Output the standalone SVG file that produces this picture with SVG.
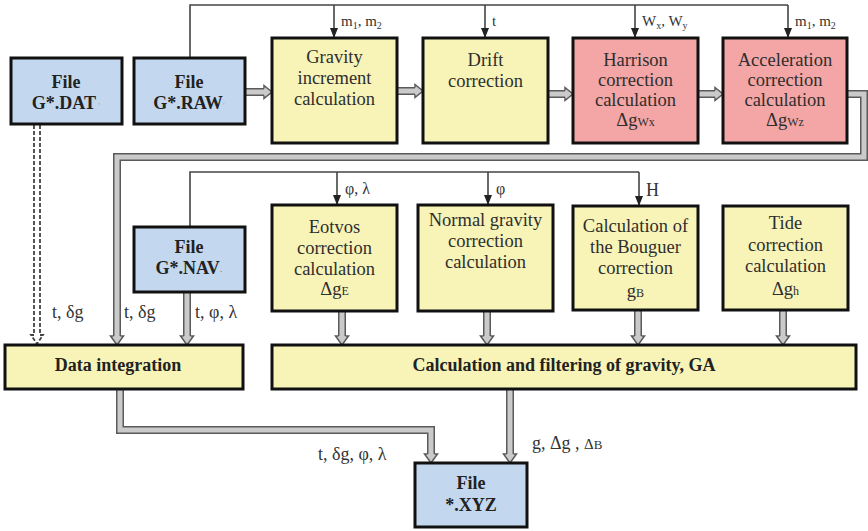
<svg xmlns="http://www.w3.org/2000/svg" width="868" height="531" viewBox="0 0 868 531" font-family="Liberation Serif, Times New Roman, serif">
<defs>
<style>
.box{stroke:#111;stroke-width:3}
.blue{fill:#c3d8ee}
.yel{fill:#f8f4b8}
.pink{fill:#f4a6a6}
.t{font-size:18.5px;fill:#2e2e2e;text-anchor:middle}
.b{font-size:18px;font-weight:bold;fill:#222;text-anchor:middle}
.lb{fill:#333}
.thin{fill:none;stroke:#444;stroke-width:1.6}
.so{fill:none;stroke:#5a5a5a;stroke-width:8;stroke-linejoin:miter}
.si{fill:none;stroke:#cacaca;stroke-width:5;stroke-linejoin:miter}
.hd{fill:#cacaca;stroke:#5a5a5a;stroke-width:1.5;stroke-linejoin:miter}
.ds{fill:none;stroke:#444;stroke-width:1.8;stroke-dasharray:4 2}
</style>
<marker id="ah" markerWidth="10" markerHeight="10" refX="10" refY="5" orient="auto" markerUnits="userSpaceOnUse"><path d="M0,1 L10,5 L0,9 Z" fill="#222"/></marker>
</defs>
<rect width="868" height="531" fill="#fff"/>

<g id="connectors">
<path class="thin" d="M190,58 V5 H788"/>
<path class="thin" d="M334,5 V38" marker-end="url(#ah)"/>
<path class="thin" d="M485,5 V38" marker-end="url(#ah)"/>
<path class="thin" d="M635,5 V38" marker-end="url(#ah)"/>
<path class="thin" d="M788,5 V38" marker-end="url(#ah)"/>
<path class="thin" d="M190,227 V172 H639"/>
<path class="thin" d="M337,172 V205" marker-end="url(#ah)"/>
<path class="thin" d="M488,172 V205" marker-end="url(#ah)"/>
<path class="thin" d="M639,172 V206" marker-end="url(#ah)"/>

<path class="so" d="M246,92 H264"/><path class="si" d="M246,92 H264"/>
<path class="hd" d="M264,88.5 V85.5 L272,92 L264,98.5 V95.5"/>
<path class="so" d="M397,91 H415"/><path class="si" d="M397,91 H415"/>
<path class="hd" d="M415,87.5 V84.5 L423,91 L415,97.5 V94.5"/>
<path class="so" d="M548,94 H565"/><path class="si" d="M548,94 H565"/>
<path class="hd" d="M565,90.5 V87.5 L573,94 L565,100.5 V97.5"/>
<path class="so" d="M698,94 H715"/><path class="si" d="M698,94 H715"/>
<path class="hd" d="M715,90.5 V87.5 L723,94 L715,100.5 V97.5"/>

<path class="so" d="M848,94 H864 V157 H117 V336"/>
<path class="si" d="M848,94 H864 V157 H117 V336"/>
<path class="hd" d="M113.5,336 H110.5 L117,345 L123.5,336 H120.5"/>

<path class="ds" d="M34,125 V335"/>
<path class="ds" d="M40,125 V335"/>
<path class="ds" d="M34,335 H31 L37,344 L43,335 H40"/>

<path class="so" d="M187,292 V336"/><path class="si" d="M187,292 V336"/>
<path class="hd" d="M183.5,336 H180.5 L187,345 L193.5,336 H190.5"/>

<path class="so" d="M342,311 V336"/><path class="si" d="M342,311 V336"/>
<path class="hd" d="M338.5,336 H335.5 L342,345 L348.5,336 H345.5"/>
<path class="so" d="M487,311 V336"/><path class="si" d="M487,311 V336"/>
<path class="hd" d="M483.5,336 H480.5 L487,345 L493.5,336 H490.5"/>
<path class="so" d="M638,310 V336"/><path class="si" d="M638,310 V336"/>
<path class="hd" d="M634.5,336 H631.5 L638,345 L644.5,336 H641.5"/>
<path class="so" d="M783,310 V336"/><path class="si" d="M783,310 V336"/>
<path class="hd" d="M779.5,336 H776.5 L783,345 L789.5,336 H786.5"/>

<path class="so" d="M120,389 V430 H431 V454"/>
<path class="si" d="M120,389 V430 H431 V454"/>
<path class="hd" d="M427.5,454 H424.5 L431,463 L437.5,454 H434.5"/>
<path class="so" d="M510,389 V454"/><path class="si" d="M510,389 V454"/>
<path class="hd" d="M506.5,454 H503.5 L510,463 L516.5,454 H513.5"/>

<text class="lb" x="341" y="26" font-size="15">m<tspan font-size="10" dy="3">1</tspan><tspan dy="-3">, m</tspan><tspan font-size="10" dy="3">2</tspan></text>
<text class="lb" x="492" y="26" font-size="15">t</text>
<text class="lb" x="642" y="26" font-size="15">W<tspan font-size="10" dy="3">x</tspan><tspan dy="-3">, W</tspan><tspan font-size="10" dy="3">y</tspan></text>
<text class="lb" x="795" y="26" font-size="15">m<tspan font-size="10" dy="3">1</tspan><tspan dy="-3">, m</tspan><tspan font-size="10" dy="3">2</tspan></text>
<text class="lb" x="345" y="194" font-size="16">φ, λ</text>
<text class="lb" x="496" y="194" font-size="16">φ</text>
<text class="lb" x="646" y="196" font-size="18">H</text>
<text class="lb" x="52" y="318" font-size="18">t, δg</text>
<text class="lb" x="124" y="318" font-size="18">t, δg</text>
<text class="lb" x="195" y="318" font-size="18">t, φ, λ</text>
<text class="lb" x="318" y="460" font-size="18">t, δg, φ, λ</text>
<text class="lb" x="532" y="449" font-size="18">g, Δg , <tspan font-size="15">Δ</tspan><tspan font-size="13">B</tspan></text>
</g>

<g id="dat">
<rect class="box blue" x="11" y="58" width="111" height="66"/>
<text class="b" x="66" y="88">File</text>
<text class="b" x="66" y="109">G*.DAT<tspan font-size="8" fill="#aaa"> '</tspan></text>
</g>
<g id="raw">
<rect class="box blue" x="134" y="58" width="111" height="66"/>
<text class="b" x="189" y="88">File</text>
<text class="b" x="189" y="109">G*.RAW<tspan font-size="8" fill="#aaa">'</tspan></text>
</g>
<g id="gravity">
<rect class="box yel" x="272" y="38" width="125" height="105"/>
<text class="t" x="334.5" y="63">Gravity</text>
<text class="t" x="334.5" y="84">increment</text>
<text class="t" x="334.5" y="105">calculation</text>
</g>
<g id="drift">
<rect class="box yel" x="423" y="38" width="125" height="105"/>
<text class="t" x="485.5" y="66">Drift</text>
<text class="t" x="485.5" y="87">correction</text>
</g>
<g id="harrison">
<rect class="box pink" x="573" y="38" width="125" height="105"/>
<text class="t" x="635.5" y="66">Harrison</text>
<text class="t" x="635.5" y="86">correction</text>
<text class="t" x="635.5" y="106">calculation</text>
<text class="t" x="635.5" y="126">Δg<tspan font-size="12">Wx</tspan></text>
</g>
<g id="accel">
<rect class="box pink" x="723" y="38" width="124" height="105"/>
<text class="t" x="785" y="66">Acceleration</text>
<text class="t" x="785" y="86">correction</text>
<text class="t" x="785" y="106">calculation</text>
<text class="t" x="785" y="126">Δg<tspan font-size="12">Wz</tspan></text>
</g>
<g id="nav">
<rect class="box blue" x="134" y="227" width="111" height="65"/>
<text class="b" x="189" y="253">File</text>
<text class="b" x="189" y="274">G*.NAV<tspan font-size="8" fill="#888">·</tspan></text>
</g>
<g id="eotvos">
<rect class="box yel" x="272" y="205" width="125" height="106"/>
<text class="t" x="334.5" y="233">Eotvos</text>
<text class="t" x="334.5" y="254">correction</text>
<text class="t" x="334.5" y="275">calculation</text>
<text class="t" x="334.5" y="295">Δg<tspan font-size="12">E</tspan></text>
</g>
<g id="normal">
<rect class="box yel" x="418" y="205" width="135" height="106"/>
<text class="t" x="485.5" y="226">Normal gravity</text>
<text class="t" x="485.5" y="247">correction</text>
<text class="t" x="485.5" y="268">calculation</text>
</g>
<g id="bouguer">
<rect class="box yel" x="573" y="206" width="125" height="104"/>
<text class="t" x="635.5" y="232">Calculation of</text>
<text class="t" x="635.5" y="253">the Bouguer</text>
<text class="t" x="635.5" y="274">correction</text>
<text class="t" x="635.5" y="297">g<tspan font-size="12">B</tspan></text>
</g>
<g id="tide">
<rect class="box yel" x="723" y="206" width="125" height="104"/>
<text class="t" x="785.5" y="229">Tide</text>
<text class="t" x="785.5" y="251">correction</text>
<text class="t" x="785.5" y="272">calculation</text>
<text class="t" x="785.5" y="295">Δg<tspan font-size="12">h</tspan></text>
</g>
<g id="integration">
<rect class="box yel" x="5" y="345" width="238" height="44"/>
<text class="b" x="118" y="371">Data integration</text>
</g>
<g id="calc">
<rect class="box yel" x="272" y="345" width="584" height="44"/>
<text class="b" x="564" y="371">Calculation and filtering of gravity, GA</text>
</g>
<g id="xyz">
<rect class="box blue" x="415" y="463" width="112" height="64"/>
<text class="b" x="471" y="489">File</text>
<text class="b" x="471" y="511">*.XYZ</text>
</g>
</svg>
